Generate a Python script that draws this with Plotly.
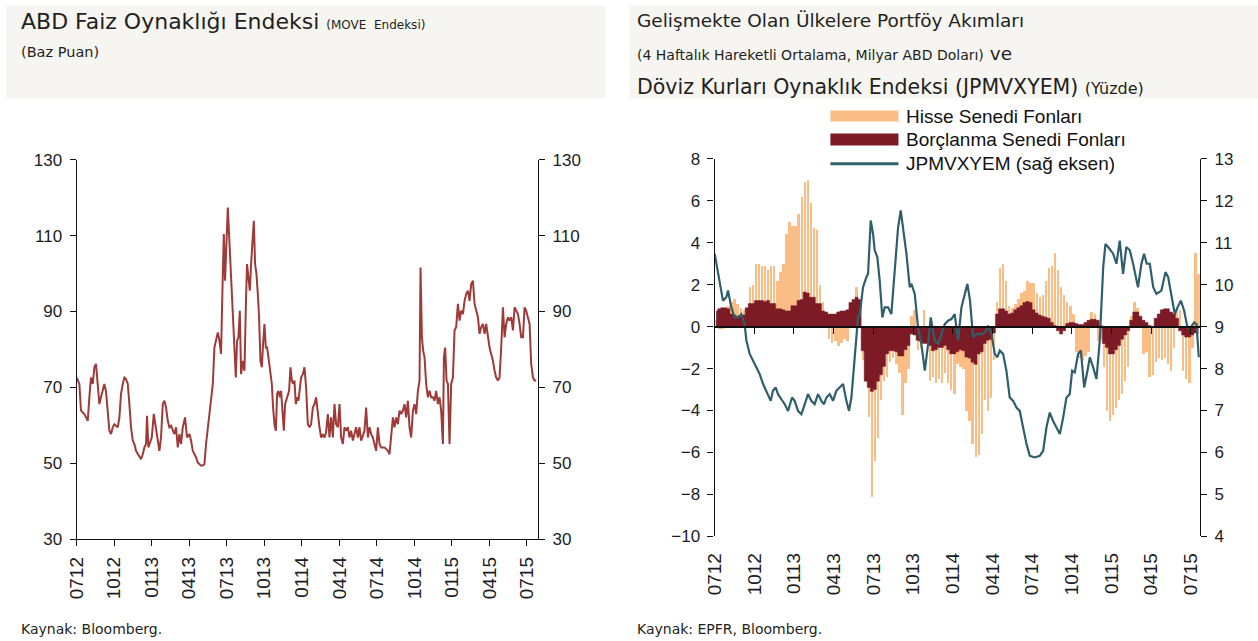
import plotly.graph_objects as go

# ---------------- data ----------------
tick_labels = ["0712", "1012", "0113", "0413", "0713", "1013", "0114",
               "0414", "0714", "1014", "0115", "0415", "0715"]
tick_months = [0, 3, 6, 9, 12, 15, 18, 21, 24, 27, 30, 33, 36]  # months since Jul-2012

# MOVE index (left chart): time in months since Jul-2012, value in bp
move_month = [
    0.00, 0.21, 0.34, 0.61, 0.74, 0.88, 1.01, 1.14, 1.28, 1.41,
    1.54, 1.68, 1.81, 1.94, 2.08, 2.21, 2.34, 2.48, 2.61, 2.74,
    2.88, 3.01, 3.28, 3.41, 3.54, 3.68, 3.81, 3.94, 4.08, 4.21,
    4.34, 4.48, 4.61, 4.74, 4.88, 5.01, 5.14, 5.28, 5.41, 5.54,
    5.62, 5.73, 5.89, 6.00, 6.16, 6.29, 6.48, 6.61, 6.74, 6.88,
    7.01, 7.14, 7.28, 7.41, 7.54, 7.68, 7.81, 7.94, 8.08, 8.21,
    8.34, 8.48, 8.66, 8.82, 9.01, 9.14, 9.28, 9.41, 9.54, 9.68,
    9.81, 9.94, 10.08, 10.21, 10.34, 10.48, 10.61, 10.74, 10.88, 11.01,
    11.14, 11.28, 11.41, 11.54, 11.65, 11.76, 11.86, 11.97, 12.08, 12.18,
    12.29, 12.40, 12.50, 12.61, 12.72, 12.82, 12.93, 13.04, 13.14, 13.28,
    13.41, 13.54, 13.62, 13.73, 13.84, 13.94, 14.05, 14.16, 14.26, 14.37,
    14.48, 14.58, 14.69, 14.80, 14.90, 15.01, 15.12, 15.22, 15.33, 15.49,
    15.60, 15.70, 15.81, 15.92, 16.02, 16.13, 16.24, 16.34, 16.45, 16.56,
    16.66, 16.82, 16.98, 17.09, 17.20, 17.30, 17.41, 17.52, 17.62, 17.73,
    17.84, 17.94, 18.08, 18.21, 18.34, 18.48, 18.61, 18.74, 18.88, 19.01,
    19.14, 19.28, 19.41, 19.54, 19.68, 19.81, 19.94, 20.08, 20.21, 20.34,
    20.48, 20.61, 20.74, 20.88, 21.01, 21.14, 21.28, 21.41, 21.54, 21.68,
    21.81, 21.94, 22.08, 22.21, 22.34, 22.48, 22.61, 22.74, 22.88, 23.01,
    23.14, 23.28, 23.41, 23.54, 23.68, 23.81, 23.94, 24.08, 24.21, 24.34,
    24.48, 24.61, 24.74, 24.88, 25.01, 25.14, 25.28, 25.41, 25.54, 25.68,
    25.81, 25.94, 26.08, 26.21, 26.34, 26.48, 26.61, 26.74, 26.88, 27.01,
    27.14, 27.28, 27.41, 27.49, 27.60, 27.70, 27.81, 27.94, 28.08, 28.21,
    28.34, 28.48, 28.61, 28.74, 28.88, 29.01, 29.14, 29.28, 29.36, 29.46,
    29.57, 29.68, 29.81, 29.94, 30.08, 30.21, 30.34, 30.48, 30.61, 30.74,
    30.88, 31.01, 31.14, 31.28, 31.41, 31.54, 31.68, 31.81, 31.94, 32.08,
    32.21, 32.34, 32.48, 32.61, 32.74, 32.88, 33.01, 33.14, 33.28, 33.41,
    33.54, 33.68, 33.81, 33.94, 34.08, 34.21, 34.34, 34.48, 34.61, 34.74,
    34.88, 35.01, 35.14, 35.28, 35.41, 35.54, 35.68, 35.81, 35.94, 36.08,
    36.21, 36.34, 36.48, 36.61, 36.74,
]
move_value = [
    72.6, 70.9, 63.9, 63.0, 62.1, 61.2, 67.4, 72.6, 70.9, 75.3,
    76.2, 71.0, 65.6, 67.4, 69.1, 70.9, 69.0, 63.9, 58.6, 57.7,
    59.5, 60.3, 59.5, 62.0, 68.3, 70.9, 72.6, 72.2, 70.9, 65.6,
    59.5, 56.0, 55.1, 53.3, 52.4, 51.6, 51.1, 52.4, 54.2, 55.1,
    62.5, 54.2, 56.0, 56.8, 63.0, 60.3, 55.1, 53.3, 56.8, 65.6,
    66.5, 64.7, 61.2, 59.5, 59.9, 58.6, 57.7, 59.5, 54.2, 57.7,
    55.1, 59.5, 62.1, 56.8, 57.7, 56.0, 53.3, 52.4, 51.6, 50.2,
    49.8, 49.4, 49.4, 49.8, 55.1, 59.5, 63.0, 67.4, 70.9, 80.5,
    82.3, 84.5, 82.3, 78.8, 95.5, 110.4, 98.1, 106.0, 117.4, 110.4,
    103.4, 94.6, 88.5, 79.7, 72.6, 82.3, 83.2, 90.2, 73.5, 77.0,
    74.4, 93.7, 102.5, 99.0, 95.5, 102.5, 107.8, 113.9, 102.5, 99.9,
    94.6, 88.5, 77.0, 75.3, 81.4, 86.7, 80.5, 80.5, 77.9, 74.4,
    70.9, 64.7, 60.3, 58.6, 68.3, 69.1, 67.4, 69.1, 63.0, 58.6,
    65.6, 67.4, 69.1, 75.3, 71.8, 70.9, 71.8, 65.6, 67.4, 66.5,
    69.1, 72.6, 73.5, 75.3, 70.0, 60.3, 59.5, 60.3, 64.7, 65.6,
    67.4, 63.0, 59.5, 56.8, 57.7, 56.8, 58.2, 63.0, 56.8, 62.1,
    56.8, 65.6, 60.3, 59.5, 65.6, 56.8, 55.1, 59.5, 58.6, 59.5,
    56.8, 58.6, 56.0, 57.7, 59.5, 56.8, 59.5, 56.0, 57.7, 58.6,
    64.7, 56.8, 59.5, 57.7, 56.8, 55.1, 53.3, 59.5, 55.1, 54.2,
    54.2, 54.2, 53.8, 53.3, 52.4, 56.8, 62.1, 59.5, 62.1, 60.3,
    63.9, 63.0, 63.9, 65.6, 62.1, 66.5, 59.5, 56.8, 63.9, 65.6,
    63.0, 69.1, 71.8, 101.6, 83.2, 79.7, 77.9, 70.9, 67.4, 69.1,
    67.4, 67.4, 66.5, 69.1, 65.6, 67.4, 63.9, 55.1, 77.9, 80.5,
    71.8, 70.9, 55.1, 70.9, 72.6, 85.0, 85.9, 92.0, 87.6, 90.2,
    89.3, 92.8, 94.6, 95.5, 92.8, 97.2, 98.1, 92.0, 90.2, 88.5,
    84.1, 85.9, 86.7, 84.1, 86.7, 83.2, 80.5, 78.8, 77.0, 74.4,
    72.6, 71.8, 72.6, 80.5, 91.1, 83.2, 86.7, 88.5, 87.6, 88.5,
    85.0, 91.1, 90.2, 89.3, 86.7, 83.2, 83.2, 91.1, 90.2, 88.5,
    86.7, 76.2, 72.6, 71.8, 71.8,
]

# EM portfolio flows (right chart): weekly, 4-week moving average, bn USD
equity_flows = [
    0.3, -0.1, -0.1, 0.4, 1.0, 1.2, 1.3, 1.1, 0.9, 0.8,
    0.5, 1.9, 2.0, 3.0, 3.0, 2.9, 2.9, 2.7, 2.9, 2.9,
    2.2, 2.6, 3.0, 4.4, 5.0, 4.8, 4.8, 5.4, 6.2, 6.9,
    7.0, 5.9, 4.7, 4.6, 2.0, 1.2, 0.4, -0.6, -0.8, -0.7,
    -0.9, -0.8, -0.6, -0.7, 0.5, 1.2, 1.9, 0.4, -1.6, -2.5,
    -4.3, -8.1, -6.4, -5.3, -3.5, -2.6, -2.4, -1.7, -1.5, -1.8,
    -2.2, -4.2, -2.7, -2.0, 0.5, 0.8, -1.1, -1.0, 0.8, -0.8,
    -2.6, -2.4, -2.7, -2.5, -2.7, -2.2, -2.7, -3.0, -3.2, -1.8,
    -1.9, -2.0, -4.0, -4.5, -5.6, -6.2, -6.1, -5.1, -3.5, -4.0,
    -3.4, -1.6, 1.2, 2.8, 3.0, 2.2, 1.0, 0.9, 1.1, 1.3,
    1.6, 1.7, 2.2, 2.1, 2.1, 1.6, 1.4, 1.5, 2.2, 2.8,
    2.9, 3.5, 2.7, 1.9, 1.5, 1.2, 1.0, 0.6, -1.2, -1.5,
    -1.6, -1.4, -1.2, 0.7, 0.6, -0.7, -0.6, -1.9, -4.0, -4.5,
    -4.2, -3.9, -3.5, -3.2, -2.6, -1.9, 0.5, 1.2, 0.9, 0.4,
    -1.3, -1.2, -2.4, -2.3, -1.7, -1.5, -1.6, -1.5, -1.8, -2.1,
    -1.0, 0.9, 0.8, -2.1, -2.5, -2.7, -1.0, 3.5, 2.5,
]
bond_flows = [
    0.75, 0.85, 0.9, 0.9, 0.85, 0.6, 0.55, 0.5, 0.5, 0.55,
    0.9, 1.1, 1.1, 1.25, 1.25, 1.25, 1.2, 1.25, 1.1, 1.1,
    0.85, 0.85, 0.8, 0.75, 0.75, 1.0, 1.0, 1.25, 1.3, 1.65,
    1.6, 1.4, 1.4, 1.1, 1.1, 0.75, 0.7, 0.6, 0.6, 0.6,
    0.7, 0.75, 0.75, 0.8, 1.15, 1.3, 1.4, 1.3, -1.15, -2.6,
    -2.9, -3.1, -3.0, -2.6, -2.3, -1.9, -1.3, -1.15, -1.15, -1.2,
    -1.4, -1.4, -1.1, -0.9, -0.35, -0.4, -0.65, -0.7, -0.8, -0.8,
    -0.9, -1.15, -1.1, -1.0, -1.0, -0.9, -1.1, -1.3, -1.3, -1.2,
    -1.1, -1.15, -1.45, -1.5, -1.7, -1.8, -1.3, -1.2, -0.8, -0.65,
    -0.6, -0.3, 0.6, 0.85, 0.85, 0.75, 0.6, 0.65, 0.8, 0.9,
    1.0, 1.15, 1.2, 1.15, 0.8, 0.65, 0.55, 0.5, 0.45, 0.4,
    0.2, 0.05, -0.2, -0.35, -0.2, 0.15, 0.2, 0.2, 0.15, 0.1,
    0.1, 0.2, 0.3, 0.35, 0.35, 0.3, 0.05, -0.8, -1.0, -1.3,
    -1.3, -1.1, -0.9, -0.6, -0.4, -0.2, 0.3, 0.7, 0.7, 0.5,
    0.3, 0.2, 0.05, 0.0, 0.4, 0.6, 0.8, 0.85, 0.85, 0.7,
    0.6, 0.4, -0.2, -0.4, -0.5, -0.5, -0.4, -0.3, -0.35,
]
flow_week = list(range(len(equity_flows)))  # week index from early Jul-2012

# JPMVXYEM (right axis, %)
jpm_month = [
    0.00, 0.13, 0.38, 0.63, 0.88, 1.01, 1.26, 1.51, 1.77, 2.02,
    2.27, 2.40, 2.65, 3.03, 3.40, 3.66, 4.03, 4.24, 4.41, 4.61,
    4.79, 5.04, 5.30, 5.55, 5.85, 6.05, 6.30, 6.56, 6.81, 7.06,
    7.31, 7.56, 7.82, 8.07, 8.27, 8.45, 8.70, 8.95, 9.20, 9.46,
    9.71, 9.96, 10.16, 10.34, 10.59, 10.84, 10.97, 11.22, 11.47, 11.60,
    11.80, 11.98, 12.10, 12.30, 12.48, 12.68, 12.86, 13.11, 13.36, 13.62,
    13.87, 14.07, 14.25, 14.50, 14.75, 14.88, 15.13, 15.38, 15.63, 15.89,
    16.14, 16.34, 16.64, 16.89, 17.15, 17.40, 17.65, 17.90, 18.15, 18.41,
    18.66, 18.91, 19.11, 19.31, 19.54, 19.79, 20.17, 20.43, 20.67, 20.93,
    21.18, 21.38, 21.56, 21.81, 22.06, 22.31, 22.57, 22.82, 23.07, 23.32,
    23.58, 23.83, 24.21, 24.58, 24.84, 25.09, 25.34, 25.59, 25.84, 26.10,
    26.35, 26.60, 26.85, 27.03, 27.23, 27.48, 27.69, 27.94, 28.19, 28.37,
    28.62, 28.87, 29.12, 29.38, 29.55, 29.75, 30.13, 30.38, 30.63, 30.88,
    31.13, 31.39, 31.64, 32.01, 32.27, 32.47, 32.67, 32.90, 33.16, 33.41,
    33.78, 34.09, 34.29, 34.54, 34.79, 35.00, 35.25, 35.50, 35.75, 36.00,
    36.26, 36.43, 36.61,
]
jpm_value = [
    10.74, 10.50, 10.10, 9.62, 9.70, 9.86, 9.46, 9.22, 9.22, 9.30,
    9.05, 8.67, 8.35, 8.10, 7.87, 7.63, 7.39, 7.23, 7.47, 7.55,
    7.39, 7.27, 7.15, 6.99, 7.31, 7.23, 6.99, 6.91, 7.15, 7.39,
    7.23, 7.15, 7.39, 7.23, 7.15, 7.31, 7.39, 7.23, 7.47, 7.55,
    7.63, 7.23, 6.99, 7.31, 8.35, 9.22, 9.30, 9.94, 10.18, 10.26,
    11.53, 11.21, 10.82, 10.66, 10.10, 9.22, 9.46, 9.46, 9.30, 10.42,
    11.37, 11.77, 11.37, 10.74, 9.94, 10.02, 9.78, 8.98, 8.59, 7.95,
    8.59, 9.22, 8.67, 8.59, 8.82, 9.06, 9.14, 9.18, 9.30, 8.67,
    9.46, 9.78, 10.02, 9.62, 8.75, 8.82, 8.82, 8.86, 9.02, 8.82,
    8.35, 8.27, 8.43, 8.35, 7.95, 7.31, 7.23, 7.07, 6.99, 6.60,
    6.20, 5.92, 5.88, 5.92, 6.04, 6.60, 6.95, 6.75, 6.60, 6.44,
    6.83, 7.31, 7.39, 7.95, 7.91, 8.35, 8.43, 7.55, 7.95, 8.27,
    8.03, 7.75, 8.67, 10.42, 10.97, 10.90, 10.74, 10.50, 11.05, 10.26,
    10.90, 10.82, 10.50, 9.94, 10.50, 10.74, 10.50, 10.50, 9.94, 9.78,
    9.86, 10.30, 10.18, 9.70, 9.30, 9.46, 9.62, 9.38, 8.98, 8.98,
    9.10, 9.06, 8.27,
]

legend_names = ["Hisse Senedi Fonları", "Borçlanma Senedi Fonları", "JPMVXYEM (sağ eksen)"]

# ---------------- styling ----------------
W, H = 1258, 641          # target picture size
# the viewer shows the page slightly shifted/scaled: screen = A + S * page
AX, SX = 10.0, 0.99
AY, SY = 8.5, 0.970
FW, FH = 1262, 652
C_MOVE = "#9e3a38"
C_EQ = "#f9bd85"
C_BOND = "#7c1b25"
C_JPM = "#2f5f6b"
C_TXT = "#1c1c24"
TICK_FONT = dict(family="Liberation Sans, Arial, sans-serif", size=17, color=C_TXT)
XTICK_FONT = dict(family="Liberation Sans, Arial, sans-serif", size=19, color=C_TXT)
TITLE_FONT = "DejaVu Sans, sans-serif"

def fx(p):
    return ((p - AX) / SX) / FW

def fy(p):
    return 1 - ((p - AY) / SY) / FH

weeks_per_month = 52.0 / 12.0
flow_x = [(w + 0.5) / weeks_per_month for w in flow_week]

fig = go.Figure()

# left chart
fig.add_trace(go.Scatter(x=move_month, y=move_value, mode="lines",
                         line=dict(color=C_MOVE, width=2), xaxis="x", yaxis="y",
                         showlegend=False, hoverinfo="skip"))
fig.add_trace(go.Scatter(x=[None], y=[None], xaxis="x", yaxis="y2",
                         showlegend=False, hoverinfo="skip"))

# right chart
fig.add_trace(go.Bar(x=flow_x, y=equity_flows, marker=dict(color=C_EQ, line=dict(width=0)),
                     width=0.62 / weeks_per_month, xaxis="x2", yaxis="y3",
                     showlegend=False, hoverinfo="skip"))
fig.add_trace(go.Scatter(x=flow_x, y=bond_flows, mode="lines", line=dict(color=C_BOND, width=0.5, shape="hvh"),
                         fill="tozeroy", fillcolor=C_BOND, xaxis="x2", yaxis="y3",
                         showlegend=False, hoverinfo="skip"))
fig.add_trace(go.Scatter(x=jpm_month, y=jpm_value, mode="lines",
                         line=dict(color=C_JPM, width=2.2), xaxis="x2", yaxis="y4",
                         showlegend=False, hoverinfo="skip"))
fig.add_trace(go.Scatter(x=[None], y=[None], xaxis="x3", yaxis="y3",
                         showlegend=False, hoverinfo="skip"))

L_dom_x = [fx(75.7), fx(536.7)]
L_dom_y = [fy(538.3), fy(159.0)]
R_dom_x = [fx(713.3), fx(1198.3)]
R_dom_y = [fy(535.3), fy(158.3)]
R_yrange = [-10, 8]
zero_pos = R_dom_y[0] + (0 - R_yrange[0]) / (R_yrange[1] - R_yrange[0]) * (R_dom_y[1] - R_dom_y[0])

axis_common = dict(showgrid=False, zeroline=False, showline=True, linecolor="#111111",
                   linewidth=1.3, ticks="outside", tickcolor="#111111", tickwidth=1.3)

fig.update_layout(
    width=FW, height=FH, margin=dict(l=0, r=0, t=0, b=0),
    paper_bgcolor="white", plot_bgcolor="rgba(0,0,0,0)",
    showlegend=False,
    xaxis=dict(domain=L_dom_x, range=[0, 36.88], anchor="y", tickmode="array",
               tickvals=tick_months, ticktext=tick_labels, tickangle=-90, ticklen=6,
               tickfont=XTICK_FONT, ticklabelstandoff=3, **axis_common),
    yaxis=dict(domain=L_dom_y, range=[30, 130], dtick=20, tick0=30, anchor="x", ticklen=6,
               tickfont=TICK_FONT, ticklabelstandoff=4, **axis_common),
    yaxis2=dict(overlaying="y", side="right", range=[30, 130], dtick=20, tick0=30, anchor="x",
                ticklen=6, tickfont=TICK_FONT, ticklabelstandoff=4, **axis_common),
    xaxis2=dict(domain=R_dom_x, range=[0, 36.69], anchor="y3", tickmode="array",
                tickvals=tick_months, ticktext=tick_labels, tickangle=-90,
                showgrid=False, zeroline=False, showline=False, ticks="",
                tickfont=XTICK_FONT, ticklabelstandoff=12),
    xaxis3=dict(overlaying="x2", anchor="free", position=zero_pos, range=[0, 36.69],
                tickmode="array", tickvals=tick_months[1:], showticklabels=False,
                ticklen=7, showgrid=False, zeroline=False, showline=True, linecolor="#111111",
                linewidth=1.6, ticks="outside", tickcolor="#111111", tickwidth=1.3),
    yaxis3=dict(domain=R_dom_y, range=R_yrange, dtick=2, tick0=-10, anchor="x2", ticklen=6,
                tickfont=TICK_FONT, ticklabelstandoff=4, **axis_common),
    yaxis4=dict(overlaying="y3", side="right", range=[4, 13], dtick=1, tick0=4, anchor="x2",
                ticklen=6, tickfont=TICK_FONT, ticklabelstandoff=4, **axis_common),
    bargap=0, barmode="overlay",
)

# title bands
shapes = [
    dict(type="rect", xref="paper", yref="paper", x0=fx(5), x1=fx(604), y0=fy(98), y1=fy(5),
         fillcolor="#f6f5f1", line=dict(width=0), layer="below"),
    dict(type="rect", xref="paper", yref="paper", x0=fx(628), x1=fx(1262), y0=fy(98), y1=fy(5),
         fillcolor="#f6f5f1", line=dict(width=0), layer="below"),
    # legend swatches
    dict(type="rect", xref="paper", yref="paper", x0=fx(829), x1=fx(897), y0=fy(121), y1=fy(110),
         fillcolor=C_EQ, line=dict(width=0)),
    dict(type="rect", xref="paper", yref="paper", x0=fx(829), x1=fx(897), y0=fy(145), y1=fy(133),
         fillcolor=C_BOND, line=dict(width=0)),
    dict(type="line", xref="paper", yref="paper", x0=fx(829), x1=fx(897), y0=fy(163), y1=fy(163),
         line=dict(color=C_JPM, width=3)),
]
fig.update_layout(shapes=shapes)

def note(text, x, y, size, family=TITLE_FONT, color="#231f20"):
    fig.add_annotation(text=text, xref="paper", yref="paper", x=fx(x), y=fy(y),
                       xanchor="left", yanchor="middle", showarrow=False,
                       font=dict(family=family, size=size, color=color))

note("ABD Faiz Oynaklığı Endeksi <span style='font-size:12px'>(MOVE  Endeksi)</span>", 18, 21, 22)
note("(Baz Puan)", 18, 51, 14.5)
note("Gelişmekte Olan Ülkelere Portföy Akımları", 634, 20, 18.5)
note("<span style='font-size:14px'>(4 Haftalık Hareketli Ortalama, Milyar ABD Doları)</span> ve", 634, 53, 18.5)
note("Döviz Kurları Oynaklık Endeksi (JPMVXYEM) <span style='font-size:16px'>(Yüzde)</span>", 634, 86, 20.5)
note("Kaynak: Bloomberg.", 18, 628, 14)
note("Kaynak: EPFR, Bloomberg.", 634, 628, 14)

for i, name in enumerate(legend_names):
    note(name, 903, [116, 139, 163][i], 19, family="Liberation Sans, Arial, sans-serif", color="#111111")

fig.write_html("out.html", config={"displayModeBar": False},
               post_script="document.body.style.margin='0px';document.body.style.padding='0px';document.body.style.overflow='hidden';")
